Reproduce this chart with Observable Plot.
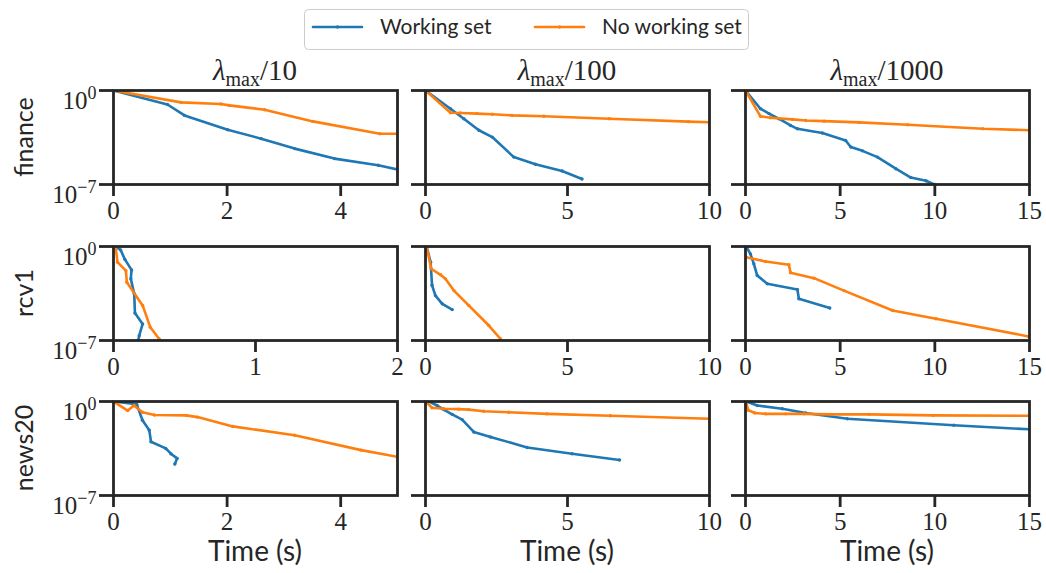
<!DOCTYPE html>
<html>
<head>
<meta charset="utf-8">
<script src="https://cdn.jsdelivr.net/npm/d3@7"></script>
<script src="https://cdn.jsdelivr.net/npm/@observablehq/plot@0.6"></script>
<style>
  body { margin: 0; background: #fff; }
  #fig { position: relative; width: 1046px; height: 573px; overflow: hidden; background: #fff; }
  #fig > svg { position: absolute; }
</style>
</head>
<body>
<div id="fig"></div>
<script>
// Duality gap (suboptimality) versus time, [seconds, value] pairs.
const datasets = ["finance", "rcv1", "news20"];
const lambdaRatios = [10, 100, 1000];
const seriesNames = ["Working set", "No working set"];
const seriesColors = ["#1f77b4", "#ff7f0e"];

const financeWS10 = [[0,1],[0.95,9.1e-2],[1.25,1.4e-2],[2.01,1.2e-3],[2.6,2.6e-4],[3.19,4.7e-5],[3.89,8.5e-6],[4.66,2.7e-6],[5.0,1.3e-6]];
const financeNoWS10 = [[0,1],[1.19,1.3e-1],[1.89,1.0e-1],[2.04,7.8e-2],[2.66,3.7e-2],[3.51,5.0e-3],[4.69,6.0e-4],[5.0,6.0e-4]];
const financeWS100 = [[0,1],[0.88,4.4e-2],[1.35,7.9e-3],[1.88,1.1e-3],[2.35,3.4e-4],[3.11,1.1e-5],[3.87,3.2e-6],[4.81,1.0e-6],[5.51,2.6e-7]];
const financeNoWS100 = [[0,1],[0.88,2.2e-2],[1.23,2.1e-2],[1.82,1.9e-2],[2.35,1.7e-2],[3.05,1.4e-2],[4.17,1.2e-2],[6.47,7.9e-3],[9.26,4.8e-3],[10,4.3e-3]];
const financeWS1000 = [[0,1],[0.79,4.4e-2],[1.24,1.9e-2],[1.76,7.9e-3],[2.38,2.5e-3],[2.74,1.4e-3],[4.06,6.8e-4],[5.29,1.9e-4],[5.56,6.2e-5],[6.18,3.2e-5],[6.97,1.1e-5],[7.94,1.5e-6],[8.73,3.3e-7],[9.53,1.9e-7],[9.97,1.0e-7]];
const financeNoWS1000 = [[0,1],[0.79,1.2e-2],[1.32,9.3e-3],[2.47,7.1e-3],[3.18,5.9e-3],[4.15,5.2e-3],[6.0,4.2e-3],[8.56,2.8e-3],[12.53,1.4e-3],[15,1.1e-3]];

const rcv1WS10 = [[0.01,1],[0.05,5.6e-1],[0.08,1.1e-1],[0.127,1.8e-2],[0.122,3.9e-3],[0.146,3.0e-4],[0.151,1.1e-5],[0.205,1.7e-6],[0.181,2.3e-7],[0.174,1.0e-7]];
const rcv1NoWS10 = [[0.005,1],[0.016,7.6e-1],[0.028,6.8e-2],[0.087,1.6e-2],[0.094,2.2e-3],[0.205,4.1e-5],[0.259,9.8e-7],[0.322,1.3e-7]];
const rcv1WS100 = [[0.04,1],[0.18,6.8e-2],[0.23,1.3e-3],[0.35,2.2e-4],[0.59,5.4e-5],[0.94,2.0e-5]];
const rcv1NoWS100 = [[0.04,1],[0.2,2.2e-2],[0.53,7.8e-3],[0.70,3.9e-3],[1.0,5.2e-4],[1.52,4.1e-5],[2.23,1.3e-6],[2.64,1.3e-7]];
const rcv1WS1000 = [[0.04,1],[0.26,2.8e-1],[0.44,5.1e-2],[0.62,6.9e-3],[1.15,1.7e-3],[2.74,6.3e-4],[2.82,1.3e-4],[4.45,2.6e-5]];
const rcv1NoWS1000 = [[0.03,1.6e-1],[1.06,7.6e-2],[2.29,4.4e-2],[2.38,1.1e-2],[3.62,4.4e-3],[5.2,5.2e-4],[7.77,1.7e-5],[10.06,4.2e-6],[14.96,2.0e-7]];

const news20WS10 = [[0,1],[0.335,6.8e-1],[0.41,6.0e-1],[0.51,4.0e-2],[0.63,7.2e-3],[0.66,1.0e-3],[0.92,3.2e-4],[1.01,1.3e-4],[1.12,5.8e-5],[1.08,2.2e-5]];
const news20NoWS10 = [[0,1],[0.25,2.1e-1],[0.36,5.0e-1],[0.51,1.6e-1],[0.72,1.0e-1],[1.28,9.3e-2],[1.48,6.9e-2],[2.1,1.4e-2],[3.19,3.1e-3],[4.36,2.4e-4],[5.0,7.6e-5]];
const news20WS100 = [[0.12,1],[0.41,5.0e-1],[0.64,2.5e-1],[0.94,1.1e-1],[1.29,4.5e-2],[1.7,5.4e-3],[2.29,2.3e-3],[3.58,3.8e-4],[5.16,1.3e-4],[6.83,4.4e-5]];
const news20NoWS100 = [[0,1],[0.23,3.4e-1],[0.64,2.9e-1],[1.17,2.7e-1],[1.52,2.5e-1],[2.05,1.9e-1],[2.93,1.6e-1],[4.28,1.2e-1],[6.51,8.7e-2],[10,5.2e-2]];
const news20WS1000 = [[0.04,1],[0.62,5.0e-1],[1.94,2.9e-1],[3.18,1.4e-1],[5.38,5.2e-2],[11.0,1.7e-2],[15,8.5e-3]];
const news20NoWS1000 = [[0.02,1],[0.15,2.2e-1],[0.5,1.4e-1],[1.06,1.2e-1],[2.12,1.2e-1],[3.09,1.2e-1],[4.5,1.1e-1],[6.53,1.1e-1],[9.9,9.3e-2],[15,8.7e-2]];

// x-axis limits and ticks per row / column
const xMax = [[5, 10, 15], [2, 10, 15], [5, 10, 15]];
const xTicks = [
  [[0, 2, 4], [0, 5, 10], [0, 5, 10, 15]],
  [[0, 1, 2], [0, 5, 10], [0, 5, 10, 15]],
  [[0, 2, 4], [0, 5, 10], [0, 5, 10, 15]]
];
const yTicks = [1e-7, 1];

const series = [
  [[financeWS10, financeNoWS10], [financeWS100, financeNoWS100], [financeWS1000, financeNoWS1000]],
  [[rcv1WS10, rcv1NoWS10], [rcv1WS100, rcv1NoWS100], [rcv1WS1000, rcv1NoWS1000]],
  [[news20WS10, news20NoWS10], [news20WS100, news20NoWS100], [news20WS1000, news20NoWS1000]]
];

// layout of the 3x3 grid of axes
const frameLeft = [113, 425, 745];
const frameTop = [90, 246, 401];
const frameW = 284, frameH = 94;
const ink = "#262626";
const serif = "'Liberation Serif', serif";
const sans = "Lato, sans-serif";
const svgns = "http://www.w3.org/2000/svg";

const fig = document.getElementById("fig");

for (let r = 0; r < 3; r++) {
  for (let c = 0; c < 3; c++) {
    const mL = c === 0 ? 113 : 25, mR = 30, mT = 10, mB = 40;
    const marks = [];
    series[r][c].forEach((data, i) => {
      marks.push(Plot.line(data, {x: d => d[0], y: d => d[1], stroke: seriesColors[i], strokeWidth: 2.6, clip: true}));
      marks.push(Plot.dot(data, {x: d => d[0], y: d => d[1], r: 1.7, fill: seriesColors[i], clip: true}));
    });
    marks.push(Plot.axisX({ticks: xTicks[r][c], tickSize: 12, tickPadding: 5, strokeWidth: 2.8, stroke: ink, fill: ink, tickFormat: d => String(d)}));
    marks.push(Plot.axisY({ticks: yTicks, tickSize: 14, tickPadding: 3, strokeWidth: 2.8, stroke: ink, fill: ink,
      tickFormat: c === 0 ? d => "10^" + String(Math.round(Math.log10(d))).replace("-", "\u2212") : () => ""}));
    marks.push(Plot.frame({stroke: ink, strokeWidth: 2.8}));

    const chart = Plot.plot({
      width: frameW + mL + mR,
      height: frameH + mT + mB,
      marginLeft: mL, marginRight: mR, marginTop: mT, marginBottom: mB,
      x: {domain: [0, xMax[r][c]], label: null},
      y: {type: "log", domain: [1e-7, 1], label: null},
      style: `background:transparent;overflow:visible;font-family:${serif};font-size:25px;color:${ink};`,
      marks
    });
    chart.style.left = (frameLeft[c] - mL) + "px";
    chart.style.top = (frameTop[r] - mT) + "px";

    // superscript exponents on the log-axis labels
    chart.querySelectorAll('[aria-label="y-axis tick label"] text').forEach(t => {
      const s = t.textContent;
      if (!s.includes("^")) return;
      const [base, exp] = s.split("^");
      t.textContent = base;
      t.setAttribute("dy", "0.42em");
      const sup = document.createElementNS(svgns, "tspan");
      sup.setAttribute("dy", "-0.55em");
      sup.setAttribute("font-size", "0.72em");
      sup.textContent = exp;
      t.appendChild(sup);
    });
    fig.appendChild(chart);
  }
}

// titles, axis labels and legend
const overlay = d3.select(fig).append("svg")
  .attr("width", 1046).attr("height", 573)
  .style("left", "0px").style("top", "0px")
  .style("pointer-events", "none");

lambdaRatios.forEach((k, c) => {
  const t = overlay.append("text")
    .attr("x", frameLeft[c] + frameW / 2).attr("y", 80)
    .attr("text-anchor", "middle")
    .attr("font-family", serif).attr("font-size", 29).attr("fill", ink);
  t.append("tspan").attr("font-style", "italic").text("λ");
  t.append("tspan").attr("dy", 6).attr("font-size", 20).text("max");
  t.append("tspan").attr("dy", -6).text("/" + k);
});

datasets.forEach((name, r) => {
  overlay.append("text")
    .attr("transform", `translate(33,${frameTop[r] + frameH / 2}) rotate(-90)`)
    .attr("text-anchor", "middle")
    .attr("font-family", sans).attr("font-size", 25).attr("fill", ink)
    .text(name);
});

frameLeft.forEach(x0 => {
  overlay.append("text")
    .attr("x", x0 + frameW / 2).attr("y", 561)
    .attr("text-anchor", "middle")
    .attr("font-family", sans).attr("font-size", 28).attr("fill", ink)
    .text("Time (s)");
});

const lg = overlay.append("g");
lg.append("rect").attr("x", 304.5).attr("y", 9.5).attr("width", 444).attr("height", 40).attr("rx", 4)
  .attr("fill", "#fff").attr("stroke", "#cccccc").attr("stroke-width", 1);
const legendX = [313, 535];
seriesNames.forEach((name, i) => {
  const x0 = legendX[i];
  lg.append("line").attr("x1", x0).attr("x2", x0 + 49).attr("y1", 27).attr("y2", 27)
    .attr("stroke", seriesColors[i]).attr("stroke-width", 2.6).attr("stroke-linecap", "round");
  lg.append("circle").attr("cx", x0 + 24.5).attr("cy", 27).attr("r", 1.7).attr("fill", seriesColors[i]);
  lg.append("text").attr("x", x0 + 67).attr("y", 27).attr("dy", "0.35em")
    .attr("font-family", sans).attr("font-size", 21).attr("fill", ink)
    .text(name);
});
</script>
</body>
</html>
